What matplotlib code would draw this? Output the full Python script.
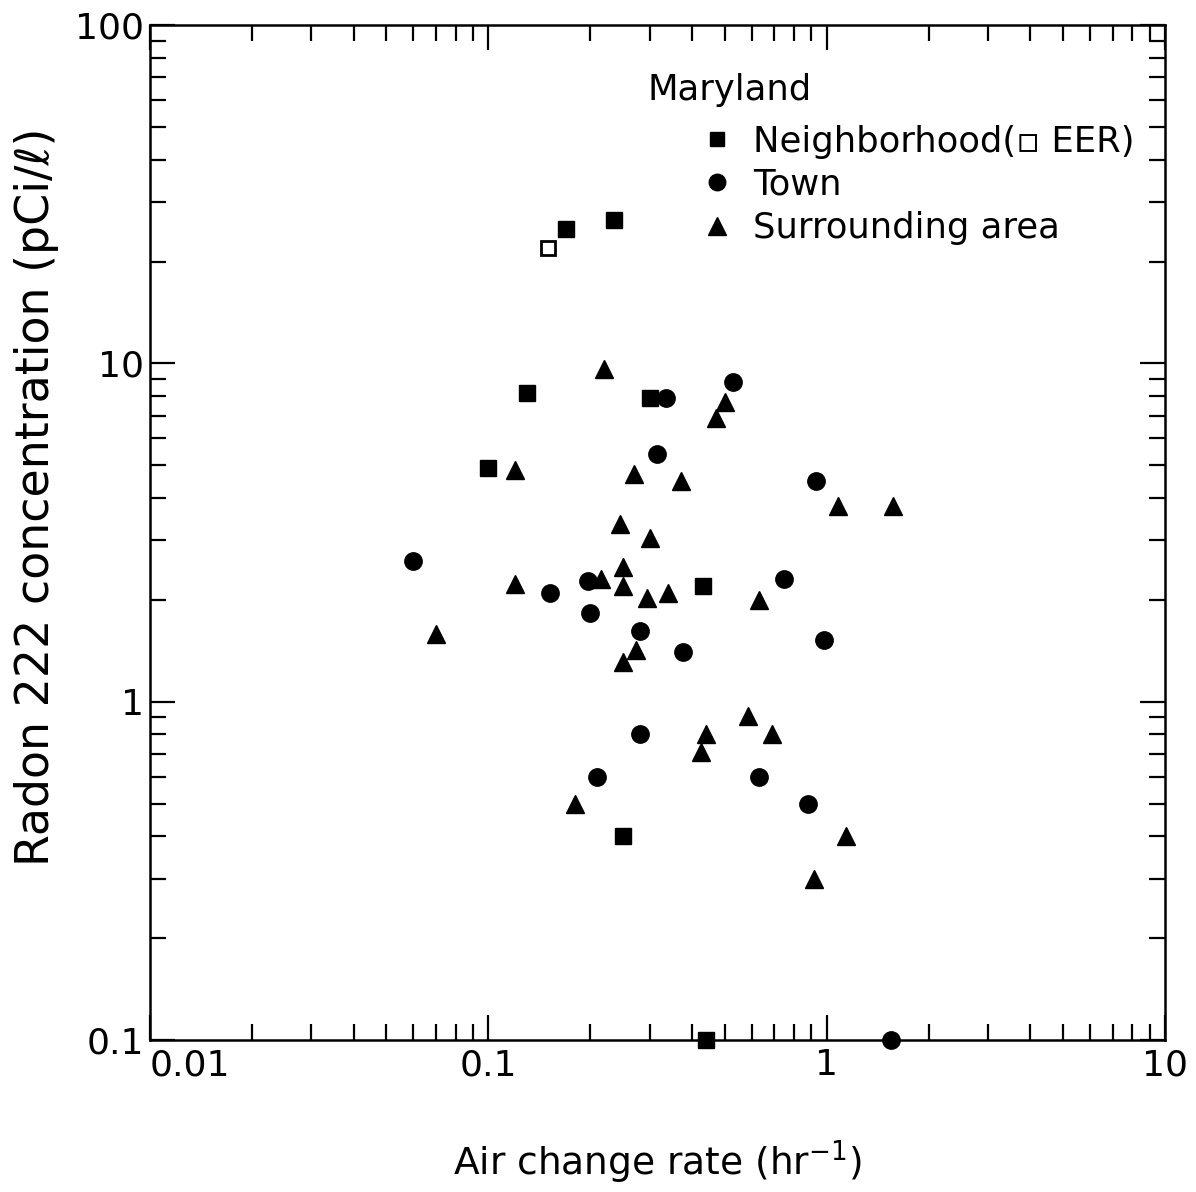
import numpy as np
import matplotlib.pyplot as plt
from matplotlib.ticker import LogLocator, NullFormatter, FixedFormatter, FixedLocator

plt.rcParams['font.family'] = ['DejaVu Sans']

# Neighborhood (filled squares)
nbhd_x = [0.17, 0.235, 0.13, 0.10, 0.30, 0.43, 0.25, 0.44]
nbhd_y = [25, 26.5, 8.2, 4.9, 7.9, 2.2, 0.40, 0.1]
# Neighborhood EER (open square)
eer_x = [0.15]
eer_y = [22]
# Town (circles)
town_x = [0.06, 0.152, 0.197, 0.20, 0.28, 0.315, 0.335, 0.375, 0.53, 0.28, 0.21, 0.63, 0.88, 0.93, 0.75, 0.98, 1.55]
town_y = [2.6, 2.1, 2.27, 1.83, 1.62, 5.4, 7.9, 1.4, 8.8, 0.8, 0.6, 0.6, 0.5, 4.5, 2.3, 1.52, 0.1]
# Surrounding area (triangles)
surr_x = [0.07, 0.12, 0.12, 0.22, 0.18, 0.215, 0.245, 0.25, 0.25, 0.25, 0.273, 0.27, 0.30, 0.295, 0.34,
          0.37, 0.47, 0.50, 0.63, 1.08, 1.57, 0.585, 0.44, 0.425, 0.69, 1.14, 0.92]
surr_y = [1.59, 4.85, 2.23, 9.6, 0.5, 2.3, 3.35, 2.5, 2.2, 1.31, 1.42, 4.7, 3.05, 2.02, 2.1,
          4.5, 6.9, 7.7, 2.0, 3.8, 3.8, 0.91, 0.80, 0.71, 0.80, 0.40, 0.30]

xticks = [0.01, 0.1, 1, 10]
xlabels = ['0.01', '0.1', '1', '10']
yticks = [0.1, 1, 10, 100]
ylabels = ['0.1', '1', '10', '100']

fig = plt.figure(figsize=(11.96, 11.92), dpi=100)
ax = fig.add_axes([0.1254, 0.1275, 0.8487, 0.8515])

ax.plot(nbhd_x, nbhd_y, 's', color='black', ms=11, clip_on=False, zorder=5,
        label='Neighborhood(\u25ab EER)')
ax.plot(eer_x, eer_y, 's', mfc='white', mec='black', mew=2, ms=10, clip_on=False, zorder=5)
ax.plot(town_x, town_y, 'o', color='black', ms=12.5, clip_on=False, zorder=5, label='Town')
ax.plot(surr_x, surr_y, '^', color='black', ms=13, clip_on=False, zorder=5, label='Surrounding area')

ax.set_xscale('log')
ax.set_yscale('log')
ax.set_xlim(0.01, 10)
ax.set_ylim(0.1, 100)

ax.xaxis.set_major_locator(FixedLocator(xticks))
ax.xaxis.set_major_formatter(FixedFormatter(xlabels))
ax.yaxis.set_major_locator(FixedLocator(yticks))
ax.yaxis.set_major_formatter(FixedFormatter(ylabels))
ax.xaxis.set_minor_locator(LogLocator(base=10, subs=np.arange(2, 10)))
ax.yaxis.set_minor_locator(LogLocator(base=10, subs=np.arange(2, 10)))
ax.xaxis.set_minor_formatter(NullFormatter())
ax.yaxis.set_minor_formatter(NullFormatter())

ax.tick_params(which='both', direction='in', top=True, right=True, width=1.6, labelsize=26)
ax.tick_params(which='major', length=18)
ax.tick_params(which='minor', length=11.5)
ax.tick_params(axis='x', pad=6)
ax.tick_params(axis='y', pad=4)
for lab in ax.get_xticklabels():
    if lab.get_text() == '0.01':
        lab.set_horizontalalignment('left')
for s in ax.spines.values():
    s.set_linewidth(1.8)

ax.set_xlabel('Air change rate (hr$^{-1}$)', fontsize=27, labelpad=40)
ax.set_ylabel('Radon 222 concentration (pCi/\u2113)', fontsize=33)
ax.yaxis.set_label_coords(-0.09, 0.535)

ax.text(0.4906, 0.936, 'Maryland', transform=ax.transAxes, fontsize=25.5, va='center', ha='left')
ax.legend(loc='upper left', bbox_to_anchor=(0.545, 0.902), frameon=False, fontsize=25.5,
          handlelength=0.8, handletextpad=0.6, labelspacing=0.26, borderpad=0, borderaxespad=0,
          markerscale=0.95)

fig.savefig('out.png', dpi=100)
